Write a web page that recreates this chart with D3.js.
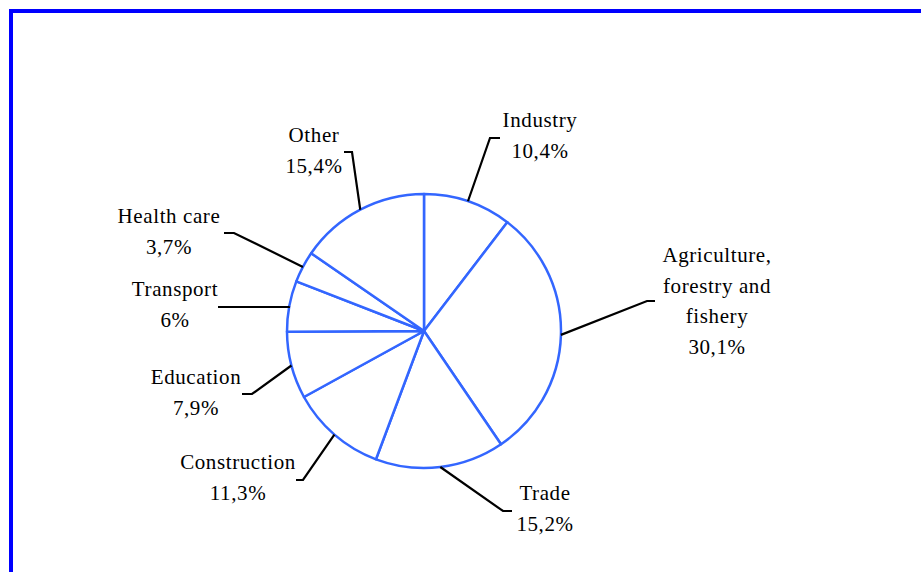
<!DOCTYPE html>
<html>
<head>
<meta charset="utf-8">
<script src="https://cdn.jsdelivr.net/npm/d3@7"></script>
<style>
  body { margin: 0; background: #fff; }
  text { font-family: "Liberation Serif", "Times New Roman", serif; font-size: 21px; letter-spacing: 0.6px; fill: #000; }
</style>
</head>
<body>
<svg id="chart" width="921" height="572"></svg>
<script>
// data, clockwise from 12 o'clock
var sectors = ["Industry", "Agriculture, forestry and fishery", "Trade", "Construction",
               "Education", "Transport", "Health care", "Other"];
var shares = [10.4, 30.1, 15.2, 11.3, 7.9, 6, 3.7, 15.4];
var shareLabels = ["10,4%", "30,1%", "15,2%", "11,3%", "7,9%", "6%", "3,7%", "15,4%"];

// label layout: text lines, text centre, first baseline, leader elbow + end
var labelLines = [["Industry"], ["Agriculture,", "forestry and", "fishery"], ["Trade"], ["Construction"],
                  ["Education"], ["Transport"], ["Health care"], ["Other"]];
var labelPos = [[540, 127], [717, 262], [545, 500], [238, 469], [196, 384], [175, 296], [169, 223], [314, 142]];
var elbows = [[490, 138, 500], [647, 301, 655], [503, 511, 512], [303, 480, 296],
              [252, 394, 242], [289, 307, 218], [234, 233, 224], [352, 152, 344]];

var cx = 424, cy = 331, r = 137;
var lineH = 30.5;

var svg = d3.select("#chart");

// blue frame, running off the right and bottom edges
svg.append("rect")
  .attr("x", 11).attr("y", 11)
  .attr("width", 1000).attr("height", 1000)
  .attr("fill", "none")
  .attr("stroke", "#0000ff")
  .attr("stroke-width", 4);

var pie = d3.pie().sort(null).value(function(d){ return d; });
var arcs = pie(shares);
var arc = d3.arc().innerRadius(0).outerRadius(r);

var g = svg.append("g").attr("transform", "translate(" + cx + "," + cy + ")");
g.selectAll("path")
  .data(arcs)
  .enter().append("path")
  .attr("d", arc)
  .attr("fill", "#fff")
  .attr("stroke", "#3366ff")
  .attr("stroke-width", 2.5)
  .attr("stroke-linejoin", "round");

// leader lines
arcs.forEach(function(a, i){
  var mid = (a.startAngle + a.endAngle) / 2;
  var x0 = cx + r * Math.sin(mid), y0 = cy - r * Math.cos(mid);
  var e = elbows[i];
  svg.append("path")
    .attr("d", "M" + x0 + " " + y0 + " L" + e[0] + " " + e[1] + " L" + e[2] + " " + e[1])
    .attr("fill", "none")
    .attr("stroke", "#000")
    .attr("stroke-width", 2.2);
});

// labels
sectors.forEach(function(s, i){
  var lines = labelLines[i].concat([shareLabels[i]]);
  var t = svg.append("text")
    .attr("text-anchor", "middle")
    .attr("x", labelPos[i][0]).attr("y", labelPos[i][1]);
  lines.forEach(function(l, j){
    t.append("tspan")
      .attr("x", labelPos[i][0])
      .attr("y", labelPos[i][1] + j * lineH)
      .text(l);
  });
});
</script>
</body>
</html>
